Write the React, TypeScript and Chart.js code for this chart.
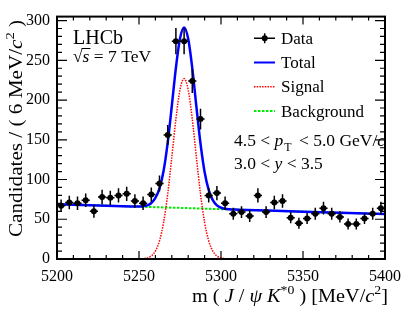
import React, { useEffect, useRef } from "react";
import { Chart, registerables } from "chart.js";

Chart.register(...registerables);

// ---------- data ----------
const binCenters = [5202.5, 5207.5, 5212.5, 5217.5, 5222.5, 5227.5, 5232.5, 5237.5, 5242.5, 5247.5, 5252.5, 5257.5, 5262.5, 5267.5, 5272.5, 5277.5, 5282.5, 5287.5, 5292.5, 5297.5, 5302.5, 5307.5, 5312.5, 5317.5, 5322.5, 5327.5, 5332.5, 5337.5, 5342.5, 5347.5, 5352.5, 5357.5, 5362.5, 5367.5, 5372.5, 5377.5, 5382.5, 5387.5, 5392.5, 5397.5];
const counts = [67, 71, 70, 74, 60, 78, 77, 80, 82, 73, 70, 81, 95, 156, 274, 274, 224, 176, 80, 83, 70, 57, 59, 54, 80, 59, 71, 73, 52, 45, 51, 57, 64, 57, 53, 44, 44, 51, 57, 64];
const countErrors = [8, 8.5, 8.5, 8.5, 8, 9, 9, 9, 9, 8.5, 8.5, 9, 10, 12.5, 16.5, 16.5, 15, 13, 9, 9, 8.5, 7.5, 7.5, 7.5, 9, 7.5, 8.5, 8.5, 7, 7, 7, 7.5, 8, 7.5, 7, 7, 7, 7, 7.5, 8];
const binHalfWidth = 2.5;

const totalX = [5200, 5245, 5247.5, 5250, 5252.5, 5255, 5257.5, 5260, 5262.5, 5265, 5267.5, 5270, 5272.5, 5275, 5277.5, 5280, 5282.5, 5285, 5287.5, 5290, 5292.5, 5295, 5297.5, 5300, 5302.5, 5305, 5307.5, 5310, 5350, 5400];
const totalFit = [69, 66.2, 66.0, 66.1, 66.5, 67.5, 70.5, 77, 89, 111.0, 146.5, 192.5, 240.4, 277.3, 291.2, 277.0, 239.8, 191.6, 145.3, 109.5, 87, 74, 67.5, 64.5, 63.2, 62.6, 62.2, 62.1, 59.4, 56.5];

const signalX = [5245, 5247.5, 5250, 5252.5, 5255, 5257.5, 5260, 5262.5, 5265, 5267.5, 5270, 5272.5, 5275, 5277.5, 5280, 5282.5, 5285, 5287.5, 5290, 5292.5, 5295, 5297.5, 5300, 5302.5, 5305, 5307.5, 5310];
const signalFit = [0, 0, 0.1, 0.4, 1.3, 3.8, 10.0, 22.9, 46.1, 81.8, 127.9, 175.9, 213.0, 227, 213.0, 175.9, 127.9, 81.8, 46.1, 22.9, 10.0, 3.8, 1.3, 0.4, 0.1, 0, 0];

const backgroundX = [5200, 5300, 5400];
const backgroundFit = [69, 62.75, 56.5];

const xTicks = [5200, 5250, 5300, 5350, 5400];
const yTicks = [0, 50, 100, 150, 200, 250, 300];
const xMinorStep = 10;
const yMinorStep = 10;
const xRange = [5200, 5400];
const yRange = [0, 305];

const legendLabels = ["Data", "Total", "Signal", "Background"];

const SERIF = '"Liberation Serif", "Times New Roman", Times, serif';
const BLUE = "#0000ff";
const RED = "#ff0000";
const GREEN = "#00ee00";

type Seg = { t: string; it?: boolean; sup?: boolean; sub?: boolean; gap?: number };

function fontFor(s: Seg, size: number) {
  const sz = s.sup || s.sub ? size * 0.68 : size;
  return `${s.it ? "italic " : ""}${sz}px ${SERIF}`;
}
function richWidth(ctx: CanvasRenderingContext2D, segs: Seg[], size: number) {
  let w = 0;
  for (const s of segs) {
    ctx.font = fontFor(s, size);
    w += ctx.measureText(s.t).width + (s.gap || 0);
  }
  return w;
}
function drawRich(ctx: CanvasRenderingContext2D, segs: Seg[], x: number, y: number, size: number, align: "left" | "right" | "center") {
  const total = richWidth(ctx, segs, size);
  let cx = align === "right" ? x - total : align === "center" ? x - total / 2 : x;
  ctx.textAlign = "left";
  ctx.textBaseline = "alphabetic";
  for (const s of segs) {
    ctx.font = fontFor(s, size);
    const dy = s.sup ? -size * 0.42 : s.sub ? size * 0.3 : 0;
    ctx.fillText(s.t, cx, y + dy);
    cx += ctx.measureText(s.t).width + (s.gap || 0);
  }
}
// draw text stretched along its baseline to fill a given length
function drawRichFit(ctx: CanvasRenderingContext2D, segs: Seg[], x: number, y: number, size: number, length: number, align: "right" | "center") {
  const w = richWidth(ctx, segs, size);
  const k = length / w;
  ctx.save();
  ctx.translate(x, y);
  ctx.scale(k, 1);
  drawRich(ctx, segs, 0, 0, size, align);
  ctx.restore();
}

const decorPlugin = {
  id: "decor",
  afterDatasetsDraw(chart: any) {
    const ctx: CanvasRenderingContext2D = chart.ctx;
    const xs = chart.scales.x;
    const ys = chart.scales.y;
    ctx.save();
    ctx.strokeStyle = "#000";
    ctx.lineWidth = 1.5;
    binCenters.forEach((bx, i) => {
      const px = xs.getPixelForValue(bx);
      const pl = xs.getPixelForValue(bx - binHalfWidth);
      const pr = xs.getPixelForValue(bx + binHalfWidth);
      const py = ys.getPixelForValue(counts[i]);
      const pt = ys.getPixelForValue(counts[i] + countErrors[i]);
      const pb = ys.getPixelForValue(counts[i] - countErrors[i]);
      ctx.beginPath();
      ctx.moveTo(pl, py);
      ctx.lineTo(pr, py);
      ctx.moveTo(px, pt);
      ctx.lineTo(px, pb);
      ctx.stroke();
    });
    ctx.restore();
  },
  afterDraw(chart: any) {
    const ctx: CanvasRenderingContext2D = chart.ctx;
    const { left, right, top, bottom } = chart.chartArea;
    const xs = chart.scales.x;
    const ys = chart.scales.y;
    ctx.save();
    ctx.strokeStyle = "#000";
    ctx.fillStyle = "#000";
    // ticks
    ctx.lineWidth = 1.2;
    ctx.beginPath();
    for (let v = xRange[0]; v <= xRange[1] + 1e-6; v += xMinorStep) {
      const px = xs.getPixelForValue(v);
      const major = xTicks.includes(v);
      const len = major ? 8 : 4;
      ctx.moveTo(px, bottom);
      ctx.lineTo(px, bottom - len);
      ctx.moveTo(px, top);
      ctx.lineTo(px, top + len);
    }
    for (let v = yRange[0]; v <= yRange[1] + 1e-6; v += yMinorStep) {
      const py = ys.getPixelForValue(v);
      const major = yTicks.includes(v);
      const len = major ? 10 : 5;
      ctx.moveTo(left, py);
      ctx.lineTo(left + len, py);
      ctx.moveTo(right, py);
      ctx.lineTo(right - len, py);
    }
    ctx.stroke();
    // frame
    ctx.lineWidth = 2;
    ctx.strokeRect(left, top, right - left, bottom - top);

    // LHCb label
    ctx.font = `20px ${SERIF}`;
    ctx.textAlign = "left";
    ctx.textBaseline = "alphabetic";
    ctx.fillText("LHCb", 73, 43.5);
    // sqrt(s) = 7 TeV
    const sx = 73;
    ctx.font = `17.5px ${SERIF}`;
    ctx.fillText("\u221A", sx, 61.5);
    const rw = ctx.measureText("\u221A").width;
    ctx.font = `italic 17.5px ${SERIF}`;
    const sw = ctx.measureText("s").width;
    ctx.fillText("s", sx + rw, 61.5);
    ctx.lineWidth = 1;
    ctx.beginPath();
    ctx.moveTo(sx + rw - 1, 48.5);
    ctx.lineTo(sx + rw + sw + 1, 48.5);
    ctx.stroke();
    ctx.font = `17.5px ${SERIF}`;
    ctx.fillText(" = 7 TeV", sx + rw + sw, 61.5);

    // legend
    const legY = [38.3, 62.5, 86.8, 111];
    const mx0 = 254, mx1 = 275;
    ctx.font = `17px ${SERIF}`;
    legendLabels.forEach((lab, i) => {
      ctx.fillStyle = "#000";
      ctx.fillText(lab, 281, legY[i] + 5.5);
    });
    // data marker
    ctx.strokeStyle = "#000";
    ctx.lineWidth = 1.5;
    ctx.setLineDash([]);
    ctx.beginPath();
    ctx.moveTo(mx0, legY[0]);
    ctx.lineTo(mx1, legY[0]);
    ctx.moveTo(264.7, legY[0] - 5);
    ctx.lineTo(264.7, legY[0] + 5);
    ctx.stroke();
    ctx.beginPath();
    ctx.arc(264.7, legY[0], 3, 0, Math.PI * 2);
    ctx.fill();
    // total
    ctx.strokeStyle = BLUE;
    ctx.lineWidth = 2;
    ctx.beginPath();
    ctx.moveTo(mx0, legY[1]);
    ctx.lineTo(mx1, legY[1]);
    ctx.stroke();
    // signal
    ctx.strokeStyle = RED;
    ctx.lineWidth = 1.5;
    ctx.setLineDash([1.5, 1.2]);
    ctx.beginPath();
    ctx.moveTo(mx0, legY[2]);
    ctx.lineTo(mx1, legY[2]);
    ctx.stroke();
    // background
    ctx.strokeStyle = GREEN;
    ctx.lineWidth = 2;
    ctx.setLineDash([2.5, 1.5]);
    ctx.beginPath();
    ctx.moveTo(mx0, legY[3]);
    ctx.lineTo(mx1, legY[3]);
    ctx.stroke();
    ctx.setLineDash([]);

    // kinematic text
    ctx.fillStyle = "#000";
    drawRich(ctx, [
      { t: "4.5 < " },
      { t: "p", it: true, gap: 1 },
      { t: "T", sub: true, gap: 3 },
      { t: " < 5.0 GeV/" },
      { t: "c", it: true },
    ], 234, 146, 17.5, "left");
    drawRich(ctx, [
      { t: "3.0 < " },
      { t: "y", it: true },
      { t: " < 3.5" },
    ], 234, 169, 17.5, "left");

    // x-axis title
    drawRichFit(ctx, [
      { t: "m ( " },
      { t: "J", it: true },
      { t: " / " },
      { t: "\u03C8", it: true },
      { t: " " },
      { t: "K", it: true },
      { t: "*0", sup: true },
      { t: " ) [MeV/" },
      { t: "c", it: true },
      { t: "2", sup: true },
      { t: "]" },
    ], 388, 302, 18.5, 196, "right");

    // y-axis title
    ctx.save();
    ctx.translate(21.5, 128.5);
    ctx.rotate(-Math.PI / 2);
    drawRichFit(ctx, [
      { t: "Candidates / ( 6 MeV/" },
      { t: "c", it: true },
      { t: "2", sup: true },
      { t: " )" },
    ], 0, 0, 18.5, 217, "center");
    ctx.restore();

    ctx.restore();
  },
};

export default function App() {
  const ref = useRef<HTMLCanvasElement | null>(null);
  useEffect(() => {
    if (!ref.current) return;
    const chart = new Chart(ref.current, {
      type: "line",
      data: {
        datasets: [
          {
            label: legendLabels[0],
            data: binCenters.map((x, i) => ({ x, y: counts[i] })),
            showLine: false,
            pointRadius: 3,
            pointBackgroundColor: "#000",
            pointBorderColor: "#000",
            pointBorderWidth: 0,
            order: 0,
          },
          {
            label: legendLabels[1],
            data: totalX.map((x, i) => ({ x, y: totalFit[i] })),
            borderColor: BLUE,
            borderWidth: 2.5,
            pointRadius: 0,
            cubicInterpolationMode: "monotone",
            fill: false,
            order: 1,
          },
          {
            label: legendLabels[2],
            data: signalX.map((x, i) => ({ x, y: signalFit[i] })),
            borderColor: RED,
            borderWidth: 1.5,
            borderDash: [1.5, 1.2],
            pointRadius: 0,
            cubicInterpolationMode: "monotone",
            fill: false,
            order: 2,
          },
          {
            label: legendLabels[3],
            data: backgroundX.map((x, i) => ({ x, y: backgroundFit[i] })),
            borderColor: GREEN,
            borderWidth: 2,
            borderDash: [2.5, 1.5],
            pointRadius: 0,
            cubicInterpolationMode: "monotone",
            fill: false,
            order: 3,
          },
        ],
      },
      options: {
        responsive: false,
        animation: false,
        events: [],
        layout: { padding: { top: 15, right: 21, left: 0, bottom: 0 } },
        plugins: { legend: { display: false }, tooltip: { enabled: false } },
        scales: {
          x: {
            type: "linear",
            min: xRange[0],
            max: xRange[1],
            grid: { display: false, drawTicks: false },
            border: { display: false },
            afterBuildTicks: (s: any) => { s.ticks = xTicks.map((v) => ({ value: v })); },
            afterFit: (s: any) => { s.height = 51; },
            ticks: {
              padding: 8,
              maxRotation: 0,
              autoSkip: false,
              color: "#000",
              font: { family: SERIF, size: 16 },
              callback: (v: any) => String(v),
            },
          },
          y: {
            type: "linear",
            min: yRange[0],
            max: yRange[1],
            grid: { display: false, drawTicks: false },
            border: { display: false },
            afterBuildTicks: (s: any) => { s.ticks = yTicks.map((v) => ({ value: v })); },
            afterFit: (s: any) => { s.width = 57; },
            ticks: {
              padding: 7,
              autoSkip: false,
              color: "#000",
              font: { family: SERIF, size: 16 },
              callback: (v: any) => String(v),
            },
          },
        },
      },
      plugins: [decorPlugin],
    });
    return () => chart.destroy();
  }, []);
  return (
    <div style={{ position: "fixed", left: 0, top: 0, width: 409, height: 310, background: "#fff" }}>
      <canvas ref={ref} width={409} height={310} style={{ display: "block" }} />
    </div>
  );
}
